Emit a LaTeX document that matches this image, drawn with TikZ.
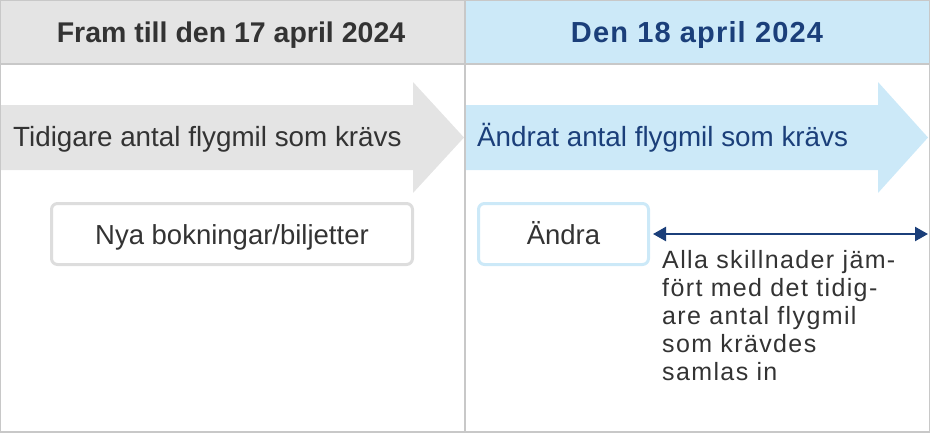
\documentclass[tikz,border=0pt]{standalone}
\usepackage{fontspec}
\setmainfont{Liberation Sans}
\newfontfamily\spacedfont[LetterSpace=5.5]{Liberation Sans}
\newfontfamily\hdspaced[LetterSpace=4]{Liberation Sans}
\usetikzlibrary{arrows.meta}
\definecolor{hdgray}{HTML}{E4E4E4}
\definecolor{hdblue}{HTML}{CCE9F8}
\definecolor{navy}{HTML}{1B3F7A}
\definecolor{txt}{HTML}{333333}
\definecolor{frame}{HTML}{C8C8C8}
\definecolor{boxgray}{HTML}{DDDDDD}
\tikzset{
  hdtext/.style={anchor=base, inner sep=0pt},
  arrtext/.style={font=\fontsize{27.8}{30}\selectfont, anchor=base west, inner sep=0pt},
  tag/.style={draw, line width=3pt, rounded corners=6pt, fill=white},
  tagtext/.style={font=\fontsize{27.5}{30}\selectfont, text=txt, anchor=base, inner sep=0pt},
}
\begin{document}
\begin{tikzpicture}[x=1pt,y=-1pt]
\useasboundingbox (0,0) rectangle (930,432);
% header
\fill[hdgray] (0,0) rectangle (465,64);
\fill[hdblue] (465,0) rectangle (930,64);
\node[hdtext, text=txt, font=\fontsize{28.5}{30}\selectfont\bfseries] (h1) at (231,42.5) {Fram till den 17 april 2024};
\node[hdtext, text=navy, font=\hdspaced\fontsize{29}{30}\selectfont\bfseries] (h2) at (697,42.5) {Den 18 april 2024};
% arrows
\fill[hdgray] (0,105) -- (413,105) -- (413,82) -- (464,137.5) -- (413,193) -- (413,170) -- (0,170) -- cycle;
\fill[hdblue] (465,105) -- (878,105) -- (878,82) -- (928,137.5) -- (878,193) -- (878,170) -- (465,170) -- cycle;
\node[arrtext, text=txt] (a1) at (13,146) {Tidigare antal flygmil som krävs};
\node[arrtext, text=navy] (a2) at (477,146) {Ändrat antal flygmil som krävs};
% boxes
\node[tag, draw=boxgray, minimum width=361pt, minimum height=61pt] (b1) at (232,234) {};
\node[tagtext] (t1) at (232,244) {Nya bokningar/biljetter};
\node[tag, draw=hdblue, minimum width=170pt, minimum height=61pt] (b2) at (563.5,234) {};
\node[tagtext] (t2) at (563.5,244) {Ändra};
\coordinate (e) at (928,234);
\draw[navy, line width=2.4pt, {Triangle[width=14pt,length=13pt]}-{Triangle[width=14pt,length=13pt]}] (b2.east) ++(3pt,0) -- (e);
\node[anchor=base west, inner sep=0pt, text=txt, align=left, font=\spacedfont\fontsize{25}{28}\selectfont] (d) at (662,380) {Alla skillnader jäm-\\fört med det tidig-\\are antal flygmil\\som krävdes\\samlas in};
% frame
\draw[frame, line width=1.5pt] (0,64) -- (930,64);
\draw[frame, line width=1.5pt] (465,0) -- (465,432);
\draw[frame, line width=2pt] (0,0) rectangle (930,432);
\end{tikzpicture}
\end{document}
